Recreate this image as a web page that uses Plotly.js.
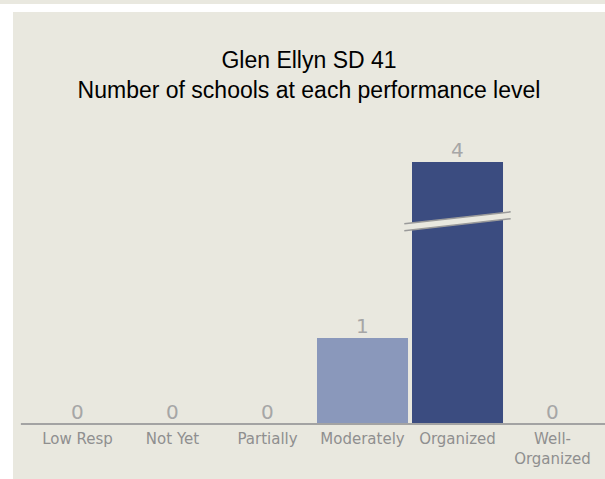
<!DOCTYPE html>
<html>
<head>
<meta charset="utf-8">
<script src="https://cdn.plot.ly/plotly-3.0.1.min.js"></script>
<style>
  html, body { margin: 0; padding: 0; background: #ffffff; width: 605px; height: 479px; overflow: hidden; }
  #strip { position: absolute; left: 0; top: 0; width: 605px; height: 4px; background: #e9e8df; }
  #chart { position: absolute; left: 13px; top: 12px; width: 592px; height: 467px; }
</style>
</head>
<body>
<div id="strip"></div>
<div id="chart"></div>
<script>
const categories = ['Low Resp', 'Not Yet', 'Partially', 'Moderately', 'Organized', 'Well-Organized'];
const tickLabels = ['Low Resp', 'Not Yet', 'Partially', 'Moderately', 'Organized', 'Well-<br>Organized'];
const counts = [0, 0, 0, 1, 4, 0];
const barColors = ['#c7cde0', '#aab4cf', '#8a98bb', '#8a98bb', '#3b4c80', '#26346a'];
const titleLines = ['Glen Ellyn SD 41', 'Number of schools at each performance level'];

const yCap = 3.05;      // visible top of value axis; taller bars are drawn broken
const breakAt = 2.4;    // where the break mark sits on a broken bar

const bg = '#e9e8df';
const idx = categories.map((c, i) => i);

const annotations = counts.map((v, i) => ({
  x: i, y: Math.min(v, yCap), xref: 'x', yref: 'y',
  text: String(v), showarrow: false, yanchor: 'bottom', yshift: -2,
  font: { family: 'DejaVu Sans', size: 20, color: '#a6a6a6' }
}));

const shapes = [{
  type: 'line', xref: 'paper', yref: 'paper', x0: -0.016, x1: 1.01, y0: 0, y1: 0,
  line: { color: '#a3a3a3', width: 2 }
}];
counts.forEach((v, i) => {
  if (v > yCap) {
    const hw = 0.56, slope = 0.07, th = 0.08;
    const x0 = i - hw, x1 = i + hw;
    const yl = breakAt - slope, yr = breakAt + slope;
    shapes.push({
      type: 'path', xref: 'x', yref: 'y',
      path: `M ${x0} ${yl} L ${x1} ${yr} L ${x1} ${yr - th} L ${x0} ${yl - th} Z`,
      fillcolor: bg, line: { width: 0 }
    });
    shapes.push({ type: 'line', xref: 'x', yref: 'y', x0: x0, y0: yl, x1: x1, y1: yr,
      line: { color: '#9a9a9a', width: 1.5 } });
    shapes.push({ type: 'line', xref: 'x', yref: 'y', x0: x0, y0: yl - th, x1: x1, y1: yr - th,
      line: { color: '#9a9a9a', width: 1.5 } });
  }
});

const trace = {
  type: 'bar', x: idx, y: counts,
  marker: { color: barColors, line: { width: 0 } },
  hoverinfo: 'skip', cliponaxis: true
};

const layout = {
  width: 592, height: 467,
  paper_bgcolor: bg, plot_bgcolor: bg,
  margin: { l: 17, r: 5, t: 150, b: 55 },
  bargap: 0.042,
  showlegend: false,
  title: {
    text: titleLines.join('<br>'),
    font: { family: 'Liberation Sans, Arial, sans-serif', size: 23, color: '#000000' },
    x: 0.5, xanchor: 'center', y: 1 - 56 / 467, yanchor: 'top', yref: 'container'
  },
  xaxis: {
    range: [-0.5, categories.length - 0.5],
    tickmode: 'array', tickvals: idx, ticktext: tickLabels,
    showgrid: false, zeroline: false, showline: false, ticks: '',
    ticklabelstandoff: 4,
    tickfont: { family: 'DejaVu Sans', size: 15, color: '#8f8f8f' },
    fixedrange: true
  },
  yaxis: {
    range: [0, yCap], visible: false, showgrid: false, zeroline: false, fixedrange: true
  },
  annotations: annotations,
  shapes: shapes
};

Plotly.newPlot('chart', [trace], layout, { displayModeBar: false, staticPlot: true });
</script>
</body>
</html>
